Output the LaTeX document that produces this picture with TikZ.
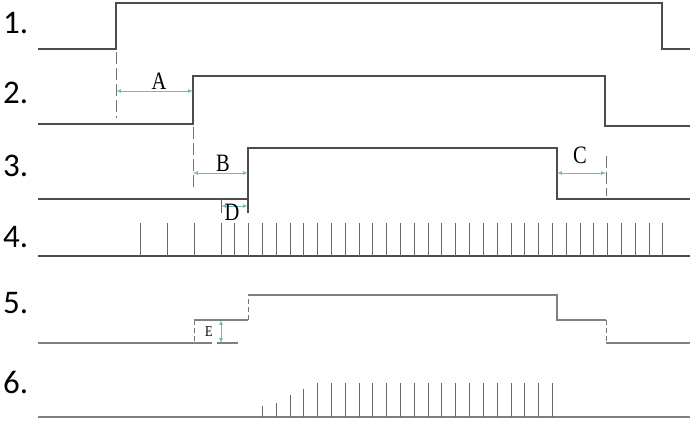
\documentclass[tikz,border=0pt]{standalone}
\usepackage{fontspec}
\setmainfont{Liberation Serif}
\newfontfamily\numfont{Carlito}
\usetikzlibrary{positioning}
\newcommand{\narrow}[1]{\scalebox{0.82}[1]{#1}}

\begin{document}
\begin{tikzpicture}[x=1pt ,y=-1pt ,
sig/.style ={draw=black!70 , line width =1.4pt},
sigl/.style ={draw=black!50 , line width =1.3pt},
tick/.style ={draw=black!60 , line width =1pt},
ext/.style ={draw=black!55 , line width =1pt , dash pattern=on 12pt off 4pt},
dim/.style ={latex-latex , draw=teal!55 , line width =0.7pt},
num/.style ={font=\numfont\fontsize{33}{33}\selectfont , anchor=base west , inner sep=0pt},
tag/.style ={font=\fontsize{25}{25}\selectfont , inner sep=0pt}]
\useasboundingbox (0,0) rectangle (692,421);
% row labels
\foreach \i/\y in {1/33,2/103,3/176,4/247,5/313,6/393}
  \node[num] (lab\i) at (3,\y) {\i.};
% signals 1-3
\draw[sig] (38,49) -- (116,49) -- (116,3) -- (662,3) -- (662,49) -- (690,49);
\draw[sig] (38,124) -- (193,124) -- (193,76) -- (605,76) -- (605,126) -- (690,126);
\draw[sig] (38,199) -- (248,199) -- (248,148) -- (557,148) -- (557,199) -- (690,199);
\draw[sig] (248,199) -- (248,213);
% extension lines
\draw[ext] (116,52) -- (116,118);
\draw[ext] (193,127) -- (193,188);
\draw[ext] (606,156) -- (606,196);
\draw[tick] (221,199) -- (221,213);
% dimensions
\coordinate (a1) at (116,91); \coordinate (a2) at (193,91);
\coordinate (b1) at (193,173); \coordinate (b2) at (248,173);
\coordinate (c1) at (557,173); \coordinate (c2) at (606,173);
\coordinate (d1) at (221,206); \coordinate (d2) at (248,206);
\coordinate (e1) at (221,320); \coordinate (e2) at (221,343);
\draw[dim] (a1) -- (a2);
\draw[dim] (b1) -- (b2);
\draw[dim] (c1) -- (c2);
\draw[dim] (d1) -- (d2);
\draw[dim] (e1) -- (e2);
\node[tag] (A) at (159,81) {\narrow{A}};
\node[tag] (B) at (223,163) {\narrow{B}};
\node[tag] (C) at (580,155) {\narrow{C}};
\node[tag] (D) at (232,212) {\narrow{D}};
\node[tag , font=\fontsize{15}{15}\selectfont] (E) at (209,332) {\narrow{E}};
% signal 4
\draw[sig] (38,256) -- (690,256);
\foreach \x in {140,167,194}
  \draw[tick] (\x,256) -- (\x,223);
\foreach \k in {0,...,32}
  \draw[tick] (221+13.81*\k,256) -- (221+13.81*\k,223);
% signal 5
\draw[sigl] (38,343) -- (212,343);
\draw[sigl] (217,343) -- (238,343);
\draw[ext , dash pattern=on 5pt off 3pt] (194,320) -- (194,343);
\draw[sigl] (194,320) -- (248,320);
\draw[ext , dash pattern=on 5pt off 3pt] (248,320) -- (248,295);
\draw[sigl] (248,295) -- (557,295) -- (557,320) -- (606,320);
\draw[ext , dash pattern=on 5pt off 3pt] (606,320) -- (606,343);
\draw[sigl] (606,343) -- (690,343);
% signal 6
\draw[sigl] (38,417) -- (690,417);
\foreach \k/\h in {3/11,4/14,5/22,6/28}
  \draw[tick] (221+13.81*\k,417) -- ++(0,-\h);
\foreach \k in {7,...,24}
  \draw[tick] (221+13.81*\k,417) -- ++(0,-34);
\end{tikzpicture}
\end{document}
